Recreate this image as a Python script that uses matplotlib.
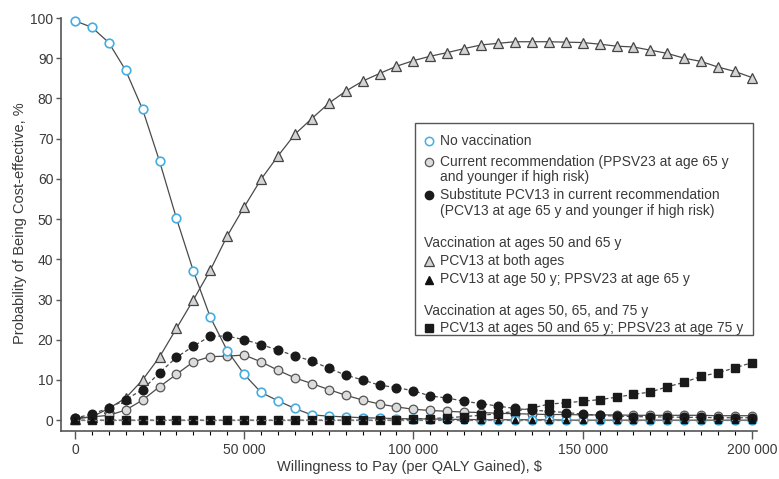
import numpy as np
import matplotlib.pyplot as plt
from matplotlib.lines import Line2D
from matplotlib.patches import Rectangle
from matplotlib.ticker import MultipleLocator, FuncFormatter

plt.rcParams['font.family'] = ['Liberation Sans', 'DejaVu Sans']

# Willingness to pay, $ per QALY gained
wtp = list(range(0, 200001, 5000))

# Probability of being cost-effective, %
no_vacc = [99.3, 97.7, 93.9, 87.0, 77.3, 64.4, 50.2, 37.1, 25.6, 17.3,
           11.4, 6.9, 4.8, 2.9, 1.3, 1.0, 0.8, 0.6, 0.5, 0.4,
           0.3, 0.3, 0.2, 0.2, 0.1, 0.1, 0.1, 0.1, 0.1, 0.0,
           0.0, 0.0, 0.0, 0.0, 0.0, 0.0, 0.0, 0.0, 0.0, 0.0, 0.0]
current_rec = [0.5, 0.8, 1.2, 2.5, 5.0, 8.3, 11.4, 14.5, 15.8, 15.9,
               16.2, 14.5, 12.4, 10.5, 9.1, 7.6, 6.2, 5.0, 4.0, 3.3,
               2.7, 2.4, 2.2, 2.0, 1.9, 1.7, 1.6, 1.5, 1.4, 1.4,
               1.3, 1.3, 1.3, 1.2, 1.2, 1.2, 1.2, 1.2, 1.1, 1.1, 1.1]
substitute = [0.5, 1.5, 3.0, 5.1, 7.6, 11.8, 15.6, 18.4, 20.9, 20.9,
              20.0, 18.8, 17.4, 16.0, 14.7, 12.9, 11.2, 10.0, 8.7, 8.1,
              7.3, 6.0, 5.5, 4.7, 4.1, 3.5, 2.9, 2.5, 2.2, 1.9,
              1.5, 1.2, 1.0, 0.9, 0.8, 0.8, 0.7, 0.7, 0.6, 0.6, 0.6]
both_ages = [0.3, 0.8, 2.9, 5.5, 10.0, 15.7, 22.8, 29.9, 37.3, 45.8,
             53.0, 59.9, 65.7, 71.1, 75.0, 78.8, 81.8, 84.3, 86.2, 88.0,
             89.4, 90.5, 91.4, 92.4, 93.3, 93.7, 94.1, 94.1, 94.1, 94.0,
             93.9, 93.5, 93.0, 92.8, 92.0, 91.2, 90.0, 89.2, 87.8, 86.7, 85.2]
age50_ppsv65 = [0.0, 0.0, 0.0, 0.0, 0.0, 0.0, 0.0, 0.0, 0.0, 0.0,
                0.0, 0.0, 0.0, 0.0, 0.0, 0.0, 0.0, 0.0, 0.0, 0.0,
                0.0, 0.0, 0.0, 0.0, 0.0, 0.0, 0.0, 0.0, 0.0, 0.0,
                0.0, 0.0, 0.0, 0.0, 0.0, 0.0, 0.0, 0.0, 0.0, 0.0, 0.0]
three_ages = [0.0, 0.0, 0.0, 0.0, 0.0, 0.0, 0.0, 0.0, 0.0, 0.0,
              0.0, 0.0, 0.0, 0.0, 0.0, 0.0, 0.0, 0.0, 0.0, 0.0,
              0.3, 0.4, 0.6, 0.9, 1.2, 1.6, 2.2, 3.0, 4.0, 4.3,
              4.7, 5.1, 5.7, 6.4, 7.0, 8.3, 9.4, 10.9, 11.8, 13.0, 14.3]

txt = '#3a3a3a'
line_c = '#4a4a4a'
blue = '#45aee0'

fig = plt.figure(figsize=(7.79, 4.79), dpi=100)
ax = fig.add_axes([61 / 779, 1 - 431 / 479, 696 / 779, 415 / 479])

ax.plot(wtp, both_ages, color=line_c, lw=0.9, marker='^', ms=6.5,
        mfc='#d4d4d4', mec='#444444', mew=0.9, zorder=3)
ax.plot(wtp, current_rec, color=line_c, lw=0.9, marker='o', ms=6.2,
        mfc='#dcdcdc', mec='#555555', mew=0.9, zorder=4)
ax.plot(wtp, no_vacc, color=line_c, lw=0.9, marker='o', ms=6.2,
        mfc='white', mec=blue, mew=1.2, zorder=5)
ax.plot(wtp, three_ages, color=line_c, lw=0.9, ls=(0, (3, 2)), marker='s', ms=5.5,
        mfc='#1a1a1a', mec='#1a1a1a', zorder=5)
ax.plot(wtp, substitute, color=line_c, lw=0.9, ls=(0, (3, 2)), marker='o', ms=6.2,
        mfc='#1a1a1a', mec='#1a1a1a', zorder=6)
ax.plot(wtp, age50_ppsv65, color='#777777', lw=0.9, ls=(0, (3, 2)), marker='^', ms=5,
        mfc='#111111', mec='#111111', zorder=7)

ax.set_xlim(-4100, 201500)
ax.set_ylim(-2.7, 100.5)
ax.set_yticks(range(0, 101, 10))
ax.xaxis.set_major_locator(MultipleLocator(50000))
ax.xaxis.set_minor_locator(MultipleLocator(5000))
ax.xaxis.set_major_formatter(FuncFormatter(lambda v, p: f'{int(v):,}'.replace(',', ' ')))

for s in ['top', 'right']:
    ax.spines[s].set_visible(False)
for s in ['left', 'bottom']:
    ax.spines[s].set_color('#555555')
    ax.spines[s].set_linewidth(1.2)
ax.spines['left'].set_bounds(-2.7, 100)
ax.tick_params(axis='both', colors='#555555', labelcolor=txt, labelsize=10)
ax.tick_params(axis='y', length=3.5, width=1, pad=2)
ax.tick_params(axis='x', which='major', length=5.5, width=1, pad=3)
ax.tick_params(axis='x', which='minor', length=3, width=0.8)

ax.set_xlabel('Willingness to Pay (per QALY Gained), $', color=txt, fontsize=10.5, labelpad=2)
ax.set_ylabel('Probability of Being Cost-effective, %', color=txt, fontsize=10.5, labelpad=2)

# legend box drawn by hand (headings sit flush with the markers)
def fx(px):
    return px / 779

def fy(py):
    return 1 - py / 479

fig.add_artist(Rectangle((fx(415), fy(335)), fx(753) - fx(415), fy(123) - fy(335),
                         transform=fig.transFigure, fill=True, fc='white',
                         ec='#555555', lw=1.0, zorder=10))

entries = [
    (140.7, dict(marker='o', ms=6, mfc='white', mec=blue, mew=1.1), 'No vaccination'),
    (161.7, dict(marker='o', ms=6, mfc='#dcdcdc', mec='#555555', mew=0.9),
     'Current recommendation (PPSV23 at age 65 y'),
    (177.5, None, 'and younger if high risk)'),
    (195.0, dict(marker='o', ms=6, mfc='#1a1a1a', mec='#1a1a1a'),
     'Substitute PCV13 in current recommendation'),
    (211.0, None, '(PCV13 at age 65 y and younger if high risk)'),
    (243.3, 'head', 'Vaccination at ages 50 and 65 y'),
    (261.0, dict(marker='^', ms=6.5, mfc='#d4d4d4', mec='#444444', mew=0.9), 'PCV13 at both ages'),
    (279.5, dict(marker='^', ms=5.5, mfc='#111111', mec='#111111'),
     'PCV13 at age 50 y; PPSV23 at age 65 y'),
    (310.5, 'head', 'Vaccination at ages 50, 65, and 75 y'),
    (328.0, dict(marker='s', ms=6, mfc='#1a1a1a', mec='#1a1a1a'),
     'PCV13 at ages 50 and 65 y; PPSV23 at age 75 y'),
]
for py, mk, label in entries:
    if mk == 'head':
        fig.text(fx(424), fy(py), label, color=txt, fontsize=10, va='center', ha='left', zorder=11)
        continue
    if mk is not None:
        fig.add_artist(Line2D([fx(429)], [fy(py)], ls='none', transform=fig.transFigure,
                              zorder=11, **mk))
    fig.text(fx(440), fy(py), label, color=txt, fontsize=10, va='center', ha='left', zorder=11)

plt.savefig('out.png', dpi=100)
